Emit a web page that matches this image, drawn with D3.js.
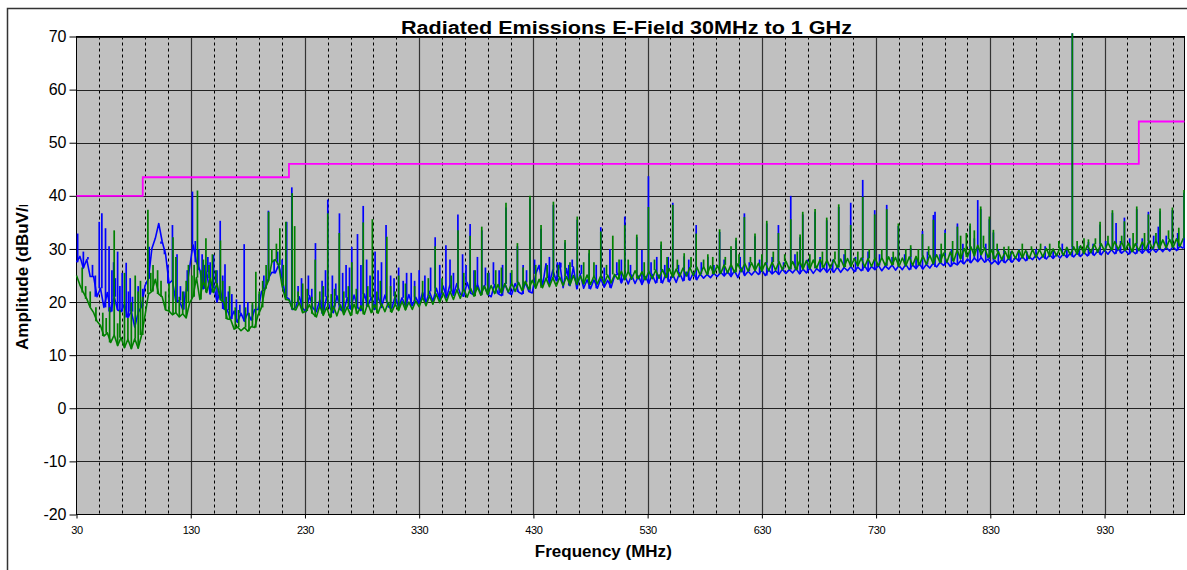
<!DOCTYPE html>
<html>
<head>
<meta charset="utf-8">
<script src="https://d3js.org/d3.v7.min.js"></script>
<style>
  body { margin: 0; background: #fff; }
  text { font-family: Arial, "Liberation Sans", sans-serif; fill: #000; }
</style>
</head>
<body>
<svg id="chart" width="1187" height="570"></svg>
<script>
// noise floor of each scan, one value every 3 MHz starting at 30 MHz
const blueFloor = [
  27.5, 28.6, 26.4, 28.0, 24.8, 24.8, 21.0, 22.6, 19.0, 21.8,   // 30
  18.2, 21.0, 18.5, 18.2, 19.6, 17.1, 18.2, 15.3, 18.0, 19.2,   // 60
  23.1, 24.4, 30.1, 32.0, 34.8, 31.4, 29.0, 23.5, 24.1, 20.0,   // 90
  20.3, 18.6, 22.0, 26.5, 30.8, 27.5, 26.0, 22.5, 25.6, 21.5,   // 120
  23.3, 20.0, 22.3, 18.7, 18.5, 16.8, 18.3, 16.2, 17.9, 16.4,   // 150
  18.0, 16.6, 18.6, 18.6, 22.0, 22.4, 24.5, 25.6, 25.5, 27.0,   // 180
  24.5, 21.0, 20.6, 18.6, 19.0, 21.0, 18.8, 18.2, 21.2, 18.9,   // 210
  18.2, 20.4, 17.8, 21.0, 18.8, 18.0, 21.2, 18.6, 18.2, 20.8,   // 240
  18.7, 21.3, 19.0, 18.4, 21.5, 19.2, 20.9, 18.6, 21.0, 19.0,   // 270
  21.3, 19.1, 18.8, 21.1, 19.0, 20.8, 19.2, 21.4, 19.3, 20.9,   // 300
  19.6, 21.8, 19.9, 22.0, 20.1, 22.6, 20.5, 23.0, 20.8, 23.3,   // 330
  21.3, 23.5, 21.5, 21.1, 23.7, 21.7, 21.3, 23.4, 21.4, 23.1,   // 360
  21.5, 21.0, 23.3, 21.6, 21.2, 23.4, 21.8, 21.4, 23.5, 21.9,   // 390
  21.5, 23.7, 22.0, 21.7, 25.3, 26.9, 23.0, 27.2, 23.5, 26.0,   // 420
  24.0, 27.4, 22.7, 26.3, 23.1, 26.6, 22.5, 25.3, 22.6, 24.2,   // 450
  22.5, 24.2, 22.6, 24.4, 22.8, 24.1, 22.7, 24.9, 25.4, 23.6,   // 480
  25.0, 23.4, 25.1, 23.5, 24.9, 23.3, 24.8, 23.5, 25.2, 23.6,   // 510
  25.1, 23.6, 25.4, 23.8, 25.2, 23.7, 25.5, 24.0, 25.6, 24.1,   // 540
  25.5, 24.2, 25.3, 24.5, 25.2, 24.6, 25.4, 24.8, 25.6, 24.9,   // 570
  25.7, 24.8, 25.9, 24.6, 26.4, 25.0, 25.8, 25.1, 25.9, 25.2,   // 600
  26.0, 25.0, 26.1, 25.3, 25.9, 25.2, 26.2, 25.4, 26.1, 25.5,   // 630
  26.3, 25.3, 26.2, 25.5, 26.4, 25.4, 26.3, 25.7, 26.5, 25.6,   // 660
  26.4, 25.6, 26.6, 25.6, 26.5, 25.9, 26.7, 25.7, 26.6, 25.9,   // 690
  26.8, 25.8, 26.7, 26.1, 26.9, 25.9, 26.8, 26.2, 27.0, 26.0,   // 720
  26.9, 26.1, 27.1, 26.1, 27.0, 26.3, 27.2, 26.2, 27.1, 26.4,   // 750
  27.3, 26.6, 27.5, 26.9, 27.6, 26.7, 27.4, 27.0, 27.8, 27.2,   // 780
  28.1, 27.4, 28.3, 27.6, 28.4, 27.5, 28.1, 27.2, 27.8, 27.1,   // 810
  28.0, 27.4, 28.2, 27.5, 28.4, 27.7, 28.6, 27.8, 28.5, 28.0,   // 840
  28.8, 28.0, 28.7, 28.1, 28.9, 28.2, 29.0, 28.3, 29.1, 28.4,   // 870
  29.2, 28.5, 29.3, 28.6, 29.4, 28.7, 29.5, 28.8, 29.6, 28.9,   // 900
  29.8, 29.0, 29.9, 29.1, 30.0, 29.2, 29.8, 29.0, 29.7, 29.1,   // 930
  29.9, 29.2, 30.0, 29.3, 30.1, 29.4, 30.2, 29.5, 30.3, 29.6,   // 960
  30.4, 29.7, 30.5, 30.1                                        // 990
];

const greenFloor = [
  25.0, 23.2, 21.8, 20.6, 19.0, 18.0, 16.4, 15.6, 13.6, 14.2,   // 30
  12.4, 13.8, 11.8, 13.3, 11.4, 13.0, 11.2, 13.1, 11.3, 13.8,   // 60
  17.5, 21.5, 22.0, 24.3, 21.5, 21.0, 18.5, 18.3, 17.6, 18.0,   // 90
  17.2, 17.8, 17.0, 19.8, 21.0, 24.6, 20.5, 24.0, 21.8, 24.5,   // 120
  21.8, 23.5, 20.4, 20.0, 16.8, 16.7, 14.9, 15.3, 14.6, 15.2,   // 150
  14.5, 15.4, 15.2, 17.6, 19.0, 22.5, 24.0, 27.5, 28.0, 27.0,   // 180
  23.0, 20.5, 20.4, 18.7, 18.5, 19.9, 18.0, 18.3, 19.5, 17.8,   // 210
  17.2, 19.3, 17.5, 19.0, 17.1, 19.2, 17.4, 19.5, 17.6, 19.1,   // 240
  17.5, 19.6, 17.8, 19.3, 17.7, 19.8, 18.0, 19.5, 17.9, 19.7,   // 270
  18.2, 19.9, 18.1, 19.6, 18.4, 20.1, 18.5, 20.0, 18.6, 20.2,   // 300
  19.1, 20.9, 19.3, 21.2, 19.6, 21.5, 19.9, 21.7, 20.1, 22.0,   // 330
  20.5, 22.3, 20.7, 22.5, 20.9, 22.6, 21.1, 22.8, 21.3, 23.0,   // 360
  21.4, 23.1, 21.6, 23.3, 21.7, 23.5, 21.9, 23.6, 22.0, 23.7,   // 390
  22.2, 23.9, 22.4, 24.1, 22.6, 24.3, 22.7, 24.5, 22.9, 24.6,   // 420
  23.0, 24.7, 23.1, 24.8, 23.2, 25.0, 23.3, 24.9, 23.4, 25.1,   // 450
  23.3, 24.9, 23.4, 25.0, 23.5, 25.1, 23.6, 25.2, 24.3, 25.8,   // 480
  24.2, 25.8, 24.3, 25.9, 24.4, 25.7, 24.2, 25.8, 24.4, 26.0,   // 510
  24.5, 26.1, 24.6, 26.3, 24.7, 26.2, 24.8, 26.4, 24.9, 26.5,   // 540
  25.0, 26.6, 25.1, 26.7, 25.2, 26.8, 25.3, 26.9, 25.4, 27.0,   // 570
  25.5, 27.1, 25.6, 27.2, 25.7, 27.3, 25.8, 27.4, 25.9, 27.3,   // 600
  25.8, 27.4, 25.9, 27.5, 26.0, 27.6, 26.1, 27.7, 26.2, 27.6,   // 630
  26.1, 27.7, 26.2, 27.8, 26.3, 27.9, 26.4, 28.0, 26.5, 27.9,   // 660
  26.4, 28.0, 26.5, 28.1, 26.6, 28.2, 26.7, 28.2, 26.8, 28.3,   // 690
  26.6, 28.2, 26.7, 28.3, 26.8, 28.4, 26.9, 28.5, 27.0, 28.4,   // 720
  26.7, 28.3, 26.8, 28.5, 26.9, 28.6, 27.0, 28.7, 27.1, 28.8,   // 750
  27.2, 28.9, 27.4, 29.2, 27.5, 29.4, 27.7, 29.8, 28.1, 30.1,   // 780
  28.5, 30.4, 28.7, 30.7, 28.9, 30.2, 28.4, 29.8, 28.1, 29.5,   // 810
  28.0, 29.5, 28.1, 29.6, 28.2, 29.8, 28.3, 29.7, 28.2, 29.9,   // 840
  28.4, 29.9, 28.5, 30.1, 28.6, 30.0, 28.7, 30.2, 28.8, 30.3,   // 870
  28.9, 30.4, 29.0, 30.6, 29.1, 30.7, 29.3, 30.9, 29.4, 31.0,   // 900
  29.6, 31.2, 29.8, 31.4, 29.9, 31.3, 29.7, 31.1, 29.5, 31.0,   // 930
  29.7, 31.3, 29.9, 31.5, 30.0, 31.6, 30.1, 31.7, 30.2, 31.8,   // 960
  30.3, 31.9, 30.5, 32.0                                        // 990
];

// narrow emissions [MHz, peak dBuV/m]
const blueSpikes = [
  [31, 32.9], [36, 29.5], [40, 28.5], [44, 27], [46.5, 25], [49.9, 35.1], [52.2, 36.7],
  [55.4, 33.9], [58.5, 30.5], [61, 26], [62.5, 27.5], [64, 24.5], [66, 29.5], [68, 23],
  [70, 25.5], [73.5, 27.4], [75.5, 22], [77, 24.5], [79, 21], [84, 23], [88, 22.5],
  [93.6, 30.4], [100.5, 34.8], [104, 31], [107, 30], [110, 27], [114, 34.5], [118, 29],
  [121, 23], [124, 22], [127, 26], [131.5, 40.8], [134, 31.5], [137, 30], [140, 29],
  [142, 27], [145, 28.5], [147, 27.5], [150, 28.9], [153, 26], [155.8, 35.3], [158, 25],
  [160, 27.1], [163, 22], [166, 21.5], [170, 20.5], [173, 19.5], [176.8, 30.9], [180, 20],
  [184, 19.5], [190, 21.5], [194, 25], [198, 37.2], [203, 28], [206, 29.5], [210, 28],
  [214, 35.1], [218.5, 41.6], [224, 23], [227, 24.5], [233, 25], [236, 22.5], [239.2, 31.1],
  [245, 24], [248, 26], [250, 39.3], [254, 25], [257, 23.5], [260.2, 36.7], [263, 25.5],
  [266, 27], [269, 26.5], [271, 30.4], [276, 32.8], [279, 27], [281, 38.1], [284, 28],
  [287, 25], [291.4, 29.5], [294, 26], [297, 27.5], [301, 34.5], [305, 25], [308, 24.5],
  [312, 26.5], [316, 24], [319, 25.5], [323, 25.5], [326, 24], [330, 26], [335, 25],
  [340, 26.5], [344, 32.2], [348, 27], [353.4, 30.7], [357, 28], [360, 25.5], [363.9, 36.5],
  [368, 29], [371, 27], [374.6, 34.7], [378, 26], [381, 28.5], [384.8, 33.5], [388, 26.5],
  [391, 25.5], [395, 27.5], [400, 26], [403, 27], [406, 37.8], [410, 25.5], [416, 30.5],
  [421, 27], [424, 26], [427, 39.5], [431, 28], [436.7, 33.8], [441, 27], [444, 28.5],
  [447.5, 38.3], [451, 27.5], [454, 26.5], [457.7, 31.2], [461, 27], [464, 28], [468.4, 35.5],
  [472, 27], [478.8, 29.2], [485, 27], [489, 34.1], [492, 26.5], [497, 30], [503, 27.5],
  [507, 28], [510, 36.1], [515, 27], [520.5, 32.2], [525, 29.8], [530.7, 43.7], [533, 27.5],
  [538, 28.5], [541.8, 30.8], [545, 27], [548, 28.5], [552, 38.7], [557, 27], [562, 28.6],
  [566, 28], [572.5, 34.5], [577, 27.5], [582.7, 28.5], [588, 27], [593, 33.2], [597, 28],
  [603, 30], [607.4, 31.6], [611, 28.5], [614.7, 36.7], [619, 27.5], [624, 32.4], [628, 28],
  [634.3, 34.8], [639, 28.5], [644.5, 34.5], [649, 27.5], [655.3, 40], [659, 29],
  [663.5, 32.2], [665.8, 36.5], [670, 28], [676.6, 37], [681, 28.5], [686.8, 35.4],
  [692, 28], [697.3, 37.9], [702, 29], [707.8, 38.7], [712, 28.5], [718.3, 43], [723, 29.5],
  [728.8, 37.3], [733, 29], [739.3, 38.3], [744, 28.5], [749.5, 34.3], [755, 29],
  [760.3, 30.2], [765, 28.5], [770.6, 33.4], [775, 29.5], [780.2, 36.4], [781.6, 37],
  [786, 29], [790.4, 33.6], [796, 30], [801.2, 34.8], [806, 31], [812.3, 34.3], [816, 32],
  [819, 39.2], [821.6, 37.5], [826, 31], [829.2, 35.6], [832.7, 33.1], [837, 30], [842, 30],
  [848, 29.5], [855, 30], [862, 29.5], [870, 30], [878, 30.5], [885, 30], [893, 31],
  [897, 30], [901.8, 70.6], [908, 30.5], [915.9, 31.3], [920, 31], [926.1, 34.6], [931, 31.5],
  [936.9, 36.8], [940.1, 34.9], [944, 31.5], [947.4, 35.9], [952, 32], [958.2, 37.5],
  [963, 32], [968.4, 37], [973, 32.5], [977.1, 34.2], [978.6, 37.1], [984, 32.5],
  [989.4, 37.3], [994, 33], [999.6, 40.6]
];

const greenSpikes = [
  [35, 26.5], [38, 23], [42, 22], [47, 19], [53, 18], [56, 17], [59, 19], [63, 33.5],
  [66, 16], [68, 18.5], [72, 25.5], [75, 17], [78, 20], [81.4, 25], [84, 22], [86, 24],
  [88, 21], [92.5, 37.4], [95, 25.5], [97, 27], [101, 26], [104, 24], [108, 22], [111, 23.5],
  [114.5, 32.2], [117, 28.5], [120, 21], [123, 22], [126, 24], [128, 27], [131, 25],
  [133, 27], [135.9, 41], [139, 26], [141, 28], [143.3, 32], [146, 27], [149, 29], [152, 26],
  [156, 31.6], [158, 24], [161, 21], [164, 23], [169, 19], [172, 18.5], [178, 19], [181, 18],
  [184, 20], [187, 25.7], [190, 22], [193, 24], [196, 27], [198.2, 37], [201, 30], [205, 31],
  [208, 33.9], [211, 27], [213.3, 35.1], [218.8, 40.5], [221, 34.3], [224, 22], [228, 23.5],
  [232, 22.5], [236, 21], [239, 28], [243, 22], [246, 23], [250, 36.7], [253, 21.5],
  [256, 22.5], [260, 33], [264, 22], [268, 23], [271, 27.5], [275, 22.5], [281, 35],
  [285, 23], [289, 35.6], [293, 22], [296, 24], [301.7, 32.3], [305, 23], [309, 22],
  [312, 25], [318, 23.5], [326, 23], [333, 24], [338, 24.5], [344, 30.5], [350, 24.5],
  [358, 25], [364, 33.5], [369, 25.5], [374.6, 32.5], [379, 26], [384.8, 34.2], [390, 25.5],
  [397, 26], [402, 26.5], [406, 38.7], [411, 26], [416, 31.1], [421, 26.5], [427, 40],
  [432, 27], [436.7, 34.5], [442, 27], [447.5, 38.9], [452, 27], [457.7, 31.7], [462, 27.5],
  [468.4, 36.1], [474, 27.5], [478.8, 29.8], [483, 27.5], [489, 33.3], [494, 27],
  [499.5, 32.5], [505, 28], [510, 34.5], [513, 28], [520.5, 32.7], [527, 27.5], [530.7, 37.9],
  [536, 28], [541.8, 31.4], [547, 28.5], [552, 38.3], [556, 28], [562, 29.2], [568, 28.5],
  [572.5, 32.9], [579, 28], [582.7, 29], [587, 28.5], [593, 33.7], [598, 28.5], [603, 30.5],
  [607.4, 32.1], [610, 29], [614.7, 36], [620, 28.5], [624, 32.9], [630, 29], [634.3, 35.3],
  [640, 29.5], [644.5, 33], [650, 29], [655.3, 35.6], [661, 29.5], [663.5, 32.7],
  [665.8, 37], [672, 29], [676.6, 37.5], [683, 29.5], [686.8, 35.9], [694, 29.5],
  [697.3, 38.4], [703, 30], [707.8, 34.5], [714, 29.5], [718.3, 39.8], [724, 30],
  [728.8, 36.5], [735, 30], [739.3, 37.5], [745, 29.5], [749.5, 34.8], [756, 30],
  [760.3, 30.7], [767, 30], [770.6, 32.8], [776, 30.5], [780.2, 35.5], [787, 31],
  [790.4, 33], [797, 31.5], [801.2, 34.2], [804, 32.5], [809, 33], [812.3, 34.8], [816, 33.5],
  [821.6, 38], [824, 32.5], [829.2, 36.1], [832.7, 33.6], [836, 31], [842, 30.4], [846, 30.5],
  [858, 31], [866, 30.5], [874, 31], [882, 31], [890, 31.5], [901.8, 70.6], [906, 31.5],
  [912, 32], [915.9, 31.8], [922, 32], [926.1, 35.1], [933, 32.5], [936.9, 37.3], [945, 32.5],
  [947.4, 35.2], [955, 33], [958.2, 38], [965, 33], [968.4, 36.5], [975, 33], [978.6, 37.6],
  [986, 33.5], [989.4, 37.8], [995, 34], [999.6, 41.1]
];

// FCC class B limit: start frequency of each step and its level
const limitFreqs = [30, 88, 216, 960, 1000];
const limitLevels = [40, 43.5, 46, 54, 54];

const yTicks = [-20, -10, 0, 10, 20, 30, 40, 50, 60, 70];
const xTicks = [30, 130, 230, 330, 430, 530, 630, 730, 830, 930];
const xMinor = d3.range(50, 1000, 20).filter(f => (f - 30) % 100 != 0);

const svg = d3.select("#chart");
const x = d3.scaleLinear().domain([30, 1000]).range([76.5, 1184.5]);
const y = d3.scaleLinear().domain([-20, 70]).range([514.5, 36.5]);

// outer chart border (runs off the right and bottom of the picture)
svg.append("path")
  .attr("d", "M7.5,575 V8.5 H1195")
  .attr("fill", "none").attr("stroke", "#333").attr("stroke-width", 1.5);

// plot area
svg.append("rect")
  .attr("x", x(30)).attr("y", y(70))
  .attr("width", x(1000) - x(30)).attr("height", y(-20) - y(70))
  .attr("fill", "#c0c0c0");

const grid = svg.append("g");
grid.selectAll(".minor").data(xMinor).enter().append("line")
  .attr("x1", d => Math.round(x(d)) + 0.5).attr("x2", d => Math.round(x(d)) + 0.5)
  .attr("y1", y(70)).attr("y2", y(-20))
  .attr("stroke", "#000").attr("stroke-width", 1).attr("stroke-dasharray", "3,3");
grid.selectAll(".major").data(xTicks.slice(1)).enter().append("line")
  .attr("x1", d => Math.round(x(d)) + 0.5).attr("x2", d => Math.round(x(d)) + 0.5)
  .attr("y1", y(70)).attr("y2", y(-20))
  .attr("stroke", "#333").attr("stroke-width", 1.2);
grid.selectAll(".hgrid").data(yTicks.slice(1)).enter().append("line")
  .attr("x1", x(30)).attr("x2", x(1000))
  .attr("y1", d => Math.round(y(d)) + 0.5).attr("y2", d => Math.round(y(d)) + 0.5)
  .attr("stroke", "#222").attr("stroke-width", 1.2);

svg.append("rect")
  .attr("x", x(30)).attr("y", y(70))
  .attr("width", x(1000) - x(30)).attr("height", y(-20) - y(70))
  .attr("fill", "none").attr("stroke", "#000").attr("stroke-width", 1);

// axes
const yAxis = svg.append("g")
  .attr("transform", "translate(" + x(30) + ",0)")
  .call(d3.axisLeft(y).tickValues(yTicks).tickFormat(d => String(d)).tickSize(7).tickPadding(3));
yAxis.select(".domain").remove();
yAxis.selectAll("line").attr("stroke", "#000");
yAxis.selectAll("text").style("font-size", "16px").attr("font-family", null);

const xAxis = svg.append("g")
  .attr("transform", "translate(0," + y(-20) + ")")
  .call(d3.axisBottom(x).tickValues(xTicks).tickFormat(d => String(d)).tickSize(4).tickPadding(8));
xAxis.select(".domain").remove();
xAxis.selectAll("line").attr("stroke", "#000");
xAxis.selectAll("text").style("font-size", "11px").style("letter-spacing", "-0.4px").attr("font-family", null);

// traces: floor drawn as a line, emissions as vertical strokes up from the floor
const line = d3.line().x(d => x(d[0])).y(d => y(d[1]));
const floorAt = (floor, f) => floor[Math.min(floor.length - 1, Math.round((f - 30) / 3))];

const limitPts = limitFreqs.map((f, i) => [f, limitLevels[i]]);
svg.append("path")
  .attr("d", d3.line().x(d => x(d[0])).y(d => y(d[1])).curve(d3.curveStepAfter)(limitPts))
  .attr("fill", "none").attr("stroke", "#ff00ff").attr("stroke-width", 1.8);

function drawTrace(floor, spikes, color) {
  const g = svg.append("g");
  g.append("path")
    .attr("d", line(floor.map((v, i) => [30 + 3 * i, v])))
    .attr("fill", "none").attr("stroke", color).attr("stroke-width", 1.6)
    .attr("stroke-linejoin", "round");
  g.selectAll("line").data(spikes).enter().append("line")
    .attr("x1", d => x(d[0])).attr("x2", d => x(d[0]))
    .attr("y1", d => y(floorAt(floor, d[0]))).attr("y2", d => y(d[1]))
    .attr("stroke", color).attr("stroke-width", 1.7);
}
drawTrace(blueFloor, blueSpikes, "#0000ff");
drawTrace(greenFloor, greenSpikes, "#008000");

// titles
svg.append("text")
  .attr("x", 626.5).attr("y", 34)
  .attr("text-anchor", "middle")
  .attr("textLength", 451).attr("lengthAdjust", "spacingAndGlyphs")
  .style("font-size", "18px").style("font-weight", "bold")
  .text("Radiated Emissions E-Field 30MHz to 1 GHz");

svg.append("text")
  .attr("x", 603.3).attr("y", 557)
  .attr("text-anchor", "middle")
  .attr("textLength", 137).attr("lengthAdjust", "spacingAndGlyphs")
  .style("font-size", "16px").style("font-weight", "bold")
  .text("Frequency (MHz)");

svg.append("clipPath").attr("id", "ylab-clip")
  .append("rect").attr("x", 0).attr("y", 205).attr("width", 70).attr("height", 300);
svg.append("g").attr("clip-path", "url(#ylab-clip)")
  .append("text")
  .attr("transform", "translate(28,350) rotate(-90)")
  .style("font-size", "17px").style("font-weight", "bold")
  .text("Amplitude (dBuV/m)");
</script>
</body>
</html>
